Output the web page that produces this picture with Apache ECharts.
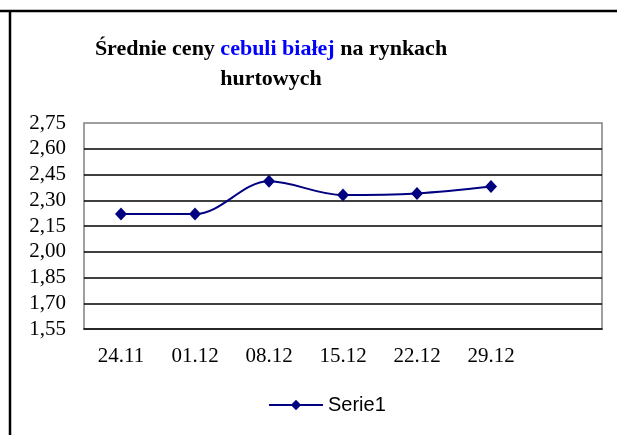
<!DOCTYPE html>
<html>
<head>
<meta charset="utf-8">
<script src="https://cdn.jsdelivr.net/npm/echarts@6/dist/echarts.min.js"></script>
<style>html,body{margin:0;padding:0;background:#fff}#c{width:617px;height:435px}</style>
</head>
<body>
<div id="c"></div>
<script>
var categories = ['24.11', '01.12', '08.12', '15.12', '22.12', '29.12', ''];
var serie1 = [2.22, 2.22, 2.41, 2.33, 2.34, 2.38, null];
var yMin = 1.55, yMax = 2.75, yStep = 0.15;
var seriesName = 'Serie1';

var chart = echarts.init(document.getElementById('c'));
chart.setOption({
  backgroundColor: '#fff',
  animation: false,
  title: {
    left: 266,
    textAlign: 'center',
    top: 29,
    text: '{a|Średnie ceny }{b|cebuli białej}{a| na rynkach}\n{a|hurtowych}',
    textStyle: {
      rich: {
        a: { fontFamily: 'Liberation Serif', fontWeight: 'bold', fontSize: 22, color: '#000', lineHeight: 30 },
        b: { fontFamily: 'Liberation Serif', fontWeight: 'bold', fontSize: 22, color: '#0000ff', lineHeight: 30 }
      }
    }
  },
  graphic: [
    { type: 'line', shape: { x1: 0, y1: 11, x2: 617, y2: 11 }, style: { stroke: '#000', lineWidth: 2.5 } },
    { type: 'line', shape: { x1: 10, y1: 11, x2: 10, y2: 435 }, style: { stroke: '#000', lineWidth: 2.5 } }
  ],
  grid: {
    left: 84, right: 15, top: 123, bottom: 106,
    show: true, borderColor: '#808080', borderWidth: 1.5, containLabel: false
  },
  legend: {
    data: [seriesName],
    left: 263,
    top: 390,
    itemWidth: 54,
    itemHeight: 13,
    itemGap: 5,
    textStyle: { fontFamily: 'Liberation Sans', fontSize: 20, color: '#000' }
  },
  xAxis: {
    type: 'category',
    data: categories,
    boundaryGap: true,
    axisTick: { show: false },
    axisLine: { lineStyle: { color: '#000', width: 1.5 } },
    axisLabel: { fontFamily: 'Liberation Serif', fontSize: 21, color: '#000', margin: 17, interval: 0 }
  },
  yAxis: {
    type: 'value',
    min: yMin, max: yMax, interval: yStep,
    axisLine: { show: false },
    axisTick: { show: false },
    splitLine: { show: true, showMaxLine: false, showMinLine: false, lineStyle: { color: '#000', width: 1.5 } },
    axisLabel: {
      fontFamily: 'Liberation Serif', fontSize: 21, color: '#000', margin: 18,
      formatter: function (v) { return v.toFixed(2).replace('.', ','); }
    }
  },
  series: [{
    name: seriesName,
    type: 'line',
    data: serie1,
    smooth: 0.35,
    symbol: 'diamond',
    symbolSize: [12, 13],
    lineStyle: { color: '#000080', width: 2 },
    itemStyle: { color: '#000080' },
    connectNulls: false
  }]
});
</script>
</body>
</html>
